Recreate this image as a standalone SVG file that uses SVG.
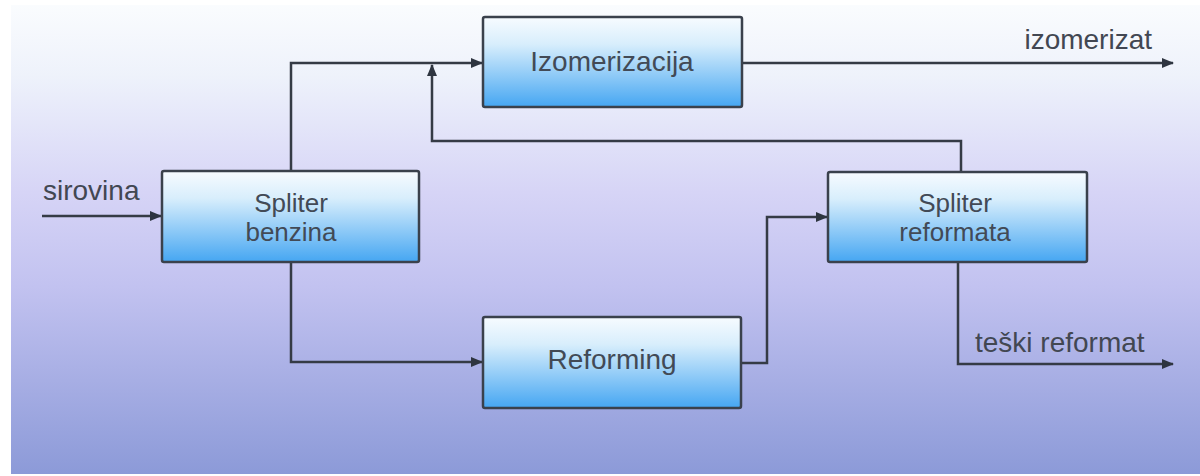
<svg xmlns="http://www.w3.org/2000/svg" width="1200" height="476" viewBox="0 0 1200 476">
<defs>
<linearGradient id="bg" x1="0" y1="0" x2="0" y2="1">
<stop offset="0" stop-color="#fafcfe"/>
<stop offset="0.15" stop-color="#eef2fb"/>
<stop offset="0.4" stop-color="#d6d4f6"/>
<stop offset="0.6" stop-color="#c2c2f0"/>
<stop offset="1" stop-color="#8c9ad8"/>
</linearGradient>
<linearGradient id="box" x1="0" y1="0" x2="0" y2="1">
<stop offset="0" stop-color="#f7fbff"/>
<stop offset="0.3" stop-color="#d8eefc"/>
<stop offset="1" stop-color="#45a6f2"/>
</linearGradient>
<marker id="ah" viewBox="0 0 12 10" refX="11" refY="5" markerWidth="13" markerHeight="10" markerUnits="userSpaceOnUse" orient="auto">
<path d="M0,0 L12,5 L0,10 Z" fill="#2e3540"/>
</marker>
</defs>
<style>
.node rect{fill:url(#box);stroke:#3a414c;stroke-width:2.5}
.lbl{font-family:"Liberation Sans",Arial,sans-serif;font-size:28px;fill:#424a56;text-anchor:middle}
.lbl2{font-size:26px}
.ext{font-family:"Liberation Sans",Arial,sans-serif;font-size:28px;fill:#424752}
.conn{fill:none;stroke:#353b45;stroke-width:2.5}
</style>
<rect x="0" y="0" width="1200" height="476" fill="#ffffff"/>
<rect x="11" y="5" width="1189" height="469" fill="url(#bg)"/>
<g id="connectors">
<path class="conn" d="M42,216 H161" marker-end="url(#ah)"/>
<path class="conn" d="M291,171 V63 H482" marker-end="url(#ah)"/>
<path class="conn" d="M742,63 H1173" marker-end="url(#ah)"/>
<path class="conn" d="M961,172 V141 H432 V65" marker-end="url(#ah)"/>
<path class="conn" d="M291,262 V362 H482" marker-end="url(#ah)"/>
<path class="conn" d="M741,363 H767 V217 H827" marker-end="url(#ah)"/>
<path class="conn" d="M958,262 V364 H1173" marker-end="url(#ah)"/>
</g>
<g id="node-izomerizacija" class="node">
<rect x="483" y="17" width="259" height="90" rx="2"/>
<text class="lbl" x="612" y="71">Izomerizacija</text>
</g>
<g id="node-spliter-benzina" class="node">
<rect x="162" y="171" width="257" height="91" rx="2"/>
<text class="lbl lbl2" x="291" y="212">Spliter</text>
<text class="lbl lbl2" x="291" y="241">benzina</text>
</g>
<g id="node-reforming" class="node">
<rect x="483" y="317" width="258" height="91" rx="2"/>
<text class="lbl" x="612" y="369">Reforming</text>
</g>
<g id="node-spliter-reformata" class="node">
<rect x="828" y="172" width="259" height="90" rx="2"/>
<text class="lbl lbl2" x="955" y="212">Spliter</text>
<text class="lbl lbl2" x="955" y="241">reformata</text>
</g>
<g id="labels">
<text class="ext" x="43" y="200">sirovina</text>
<text class="ext" x="1152" y="49" text-anchor="end">izomerizat</text>
<text class="ext" x="975" y="352">teški reformat</text>
</g>
</svg>
